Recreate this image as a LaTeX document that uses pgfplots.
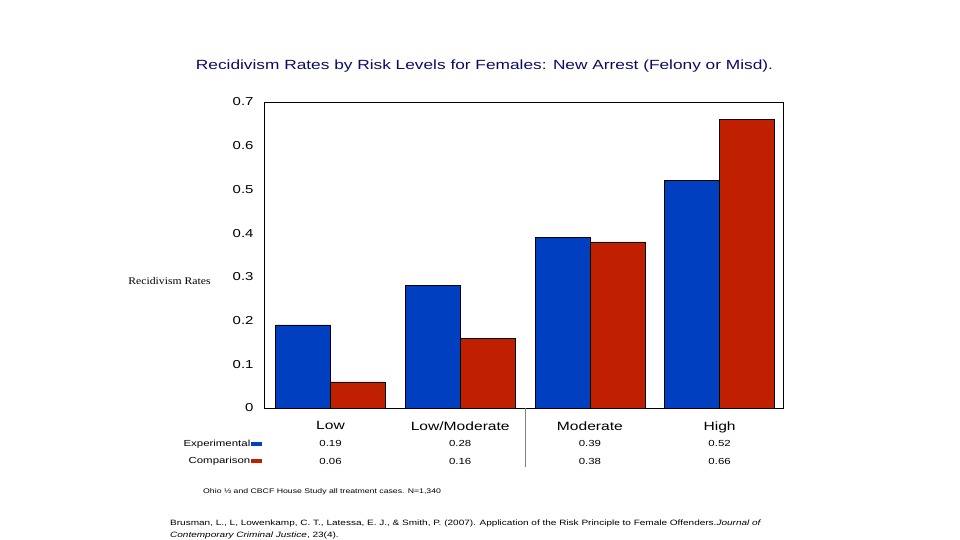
\documentclass[border=0pt]{standalone}
\usepackage{pgfplots}
\pgfplotsset{compat=1.18}
\usepackage{fontspec}
\setmainfont{Liberation Sans}[FakeStretch=1.3]
\newfontfamily\serifw{Liberation Serif}[FakeStretch=1.15]
\definecolor{expblue}{RGB}{0,64,192}
\definecolor{compred}{RGB}{192,32,0}
\definecolor{titlenavy}{RGB}{12,12,100}
\tikzset{tabval/.style={font=\fontsize{8.8}{9}\selectfont}}
\begin{document}
\begin{tikzpicture}[x=1pt,y=1pt]
\useasboundingbox (0,0) rectangle (960,540);
\fill[white] (0,0) rectangle (960,540);
\begin{axis}[
  at={(264pt,132pt)}, anchor=south west,
  width=519pt, height=306pt, scale only axis,
  xmin=-0.513, xmax=3.489, ymin=0, ymax=0.7,
  ytick={0,0.1,0.2,0.3,0.4,0.5,0.6,0.7},
  xtick={0,1,2,3}, xticklabels={Low,Low/Moderate,Moderate,High},
  major tick length=0pt,
  /pgf/number format/assume math mode=true,
  /pgf/number format/fixed,
  yticklabel style={font=\fontsize{11.5}{12}\selectfont, anchor=east, xshift=-7pt},
  xticklabel style={font=\fontsize{12}{12}\selectfont, anchor=north, yshift=-10pt},
  axis line style={line width=0.8pt},
  clip=false,
  ybar,
]
\addplot[ybar, bar width=0.423, bar shift=-0.2115, fill=expblue, draw=black, line width=0.5pt]
  coordinates {(0,0.19) (1,0.28) (2,0.39) (3,0.52)};
\addplot[ybar, bar width=0.423, bar shift=0.2115, fill=compred, draw=black, line width=0.5pt]
  coordinates {(0,0.06) (1,0.16) (2,0.38) (3,0.66)};
\node[tabval] at (axis cs:0,0) [yshift=-35pt] {0.19};
\node[tabval] at (axis cs:1,0) [yshift=-35pt] {0.28};
\node[tabval] at (axis cs:2,0) [yshift=-35pt] {0.39};
\node[tabval] at (axis cs:3,0) [yshift=-35pt] {0.52};
\node[tabval] at (axis cs:0,0) [yshift=-53pt] {0.06};
\node[tabval] at (axis cs:1,0) [yshift=-53pt] {0.16};
\node[tabval] at (axis cs:2,0) [yshift=-53pt] {0.38};
\node[tabval] at (axis cs:3,0) [yshift=-53pt] {0.66};
\draw[gray, line width=0.6pt] (axis cs:1.5,0) -- ([yshift=-59pt]axis cs:1.5,0);
\end{axis}
% row labels and legend keys
\node[font=\fontsize{8.8}{9}\selectfont, anchor=east, inner sep=0pt] at (250.5,96) {Experimental};
\fill[expblue] (251,94) rectangle (262,98);
\node[font=\fontsize{8.8}{9}\selectfont, anchor=east, inner sep=0pt] at (250.5,79) {Comparison};
\fill[compred] (251,77) rectangle (262,81);
% title
\node[font=\fontsize{13.3}{14}\selectfont, text=titlenavy, anchor=center, inner sep=0pt] at (484.5,474) {Recidivism Rates by Risk Levels for Females: New Arrest (Felony or Misd).};
% y label
\node[font=\serifw\fontsize{10.2}{10}\selectfont, anchor=center, inner sep=0pt] at (169.5,259) {Recidivism Rates};
% footnote
\node[font=\fontsize{6.7}{7}\selectfont, anchor=west, inner sep=0pt] at (203,48.5) {Ohio \textonehalf{} and CBCF House Study all treatment cases. N=1,340};
% citation
\node[font=\fontsize{7.7}{8}\selectfont, anchor=west, inner sep=0pt] at (170,16) {Brusman, L., L, Lowenkamp, C. T., Latessa, E. J., \& Smith, P. (2007). Application of the Risk Principle to Female Offenders.\textit{Journal of}};
\node[font=\fontsize{7.7}{8}\selectfont, anchor=west, inner sep=0pt] at (170,4) {\textit{Contemporary Criminal Justice}, 23(4).};
\end{tikzpicture}
\end{document}
